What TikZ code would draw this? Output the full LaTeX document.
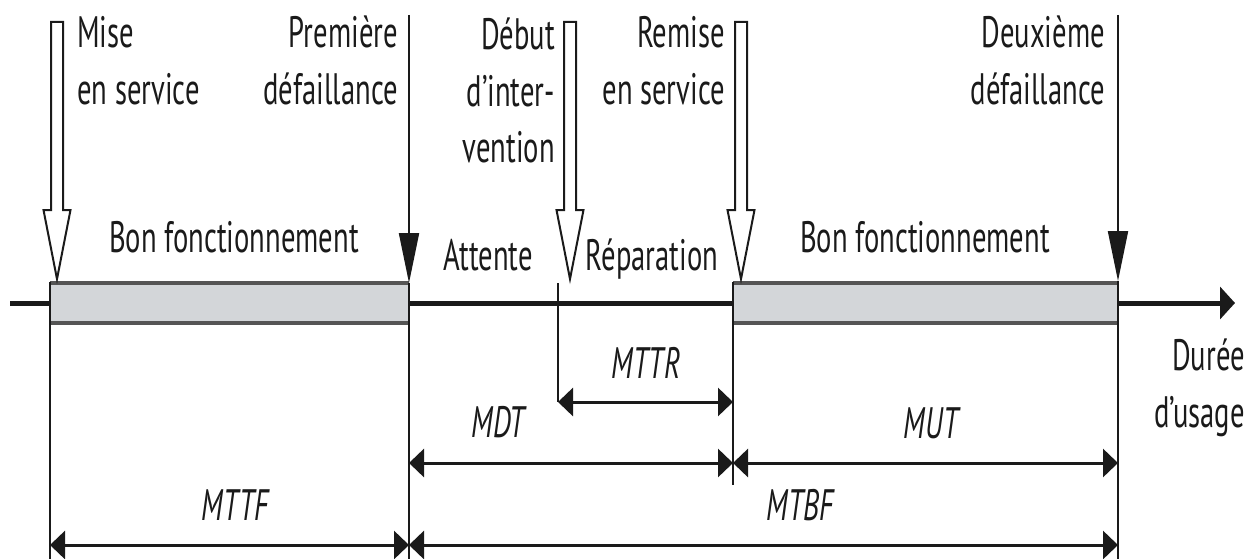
\documentclass[tikz,border=0pt]{standalone}
\usepackage{fontspec}
\usetikzlibrary{arrows.meta}
\newfontfamily\lab[FakeStretch=0.65]{PT Sans}
\definecolor{barfill}{HTML}{D3D6D9}
\definecolor{baredge}{HTML}{555555}
\definecolor{ink}{HTML}{1A1A1A}
\begin{document}
\begin{tikzpicture}[x=1pt,y=-1pt,
  txt/.style={font=\lab\fontsize{44}{57}\selectfont, inner sep=0pt, text=ink},
  dimlab/.style={txt, font=\lab\itshape\fontsize{44}{57}\selectfont, anchor=center},
  vline/.style={draw=ink, line width=2pt},
  dim/.style={draw=ink, line width=3pt, {Triangle[length=15pt,width=28pt]}-{Triangle[length=15pt,width=28pt]}},
  failarrow/.style={draw=ink, line width=2pt, -{Triangle[length=50pt,width=20pt]}},
  hollowarr/.style={draw=ink, line width=2pt, fill=white},
  axisline/.style={draw=ink, line width=5pt, -{Triangle[length=15pt,width=32pt]}},
  bar/.style={fill=barfill},
  baredgeline/.style={draw=baredge, line width=3.5pt}
]
\useasboundingbox (0,0) rectangle (1258,559);

% event coordinates on the axis
\coordinate (axstart) at (10,303);
\coordinate (axend) at (1235,303);

% axis
\draw[axisline] (axstart) -- (axend);

% bars
\fill[bar] (50,282) rectangle (409,324);
\fill[bar] (733,282) rectangle (1118,324);
\draw[baredgeline] (50,283) -- (409,283) (50,323) -- (409,323);
\draw[baredgeline] (733,283) -- (1118,283) (733,323) -- (1118,323);

% vertical lines
\coordinate (t0top) at (50,282);
\coordinate (t0b) at (50,559);
\coordinate (t1top) at (409,15);
\coordinate (t1tip) at (409,283);
\coordinate (t1b) at (409,559);
\coordinate (t2top) at (558,283);
\coordinate (t2b) at (558,402);
\coordinate (t3top) at (733,282);
\coordinate (t3b) at (733,485);
\coordinate (t4top) at (1118,15);
\coordinate (t4tip) at (1118,281);
\coordinate (t4b) at (1118,559);

\draw[vline] (t0top) -- (t0b);
\draw[vline] (t1tip) -- (t1b);
\draw[vline] (t2top) -- (t2b);
\draw[vline] (t3top) -- (t3b);
\draw[vline] (t4tip) -- (t4b);

% failure arrows
\draw[failarrow] (t1top) -- (t1tip);
\draw[failarrow] (t4top) -- (t4tip);

% hollow arrows
\foreach \c in {57,570,741}{
  \draw[hollowarr] ({\c-6},22) -- ({\c+6},22) -- ({\c+6},210) -- ({\c+13.5},210)
     -- (\c,279) -- ({\c-13.5},210) -- ({\c-6},210) -- cycle;
}

% event labels (anchored at the baseline of their last line)
\node[txt, anchor=base west, align=left] (lmise) at (77,105) {Mise\\en service};
\node[txt, anchor=base east, align=right] (lprem) at (398,105) {Première\\défaillance};
\node[txt, anchor=base east, align=right] (ldebut) at (555,163) {Début\\d’inter-\\vention};
\node[txt, anchor=base east, align=right] (lremise) at (725,105) {Remise\\en service};
\node[txt, anchor=base east, align=right] (ldeux) at (1105,105) {Deuxième\\défaillance};

% phase labels
\node[txt, anchor=base] (bon1) at (234,252) {Bon fonctionnement};
\node[txt, anchor=base] (att) at (488,270) {Attente};
\node[txt, anchor=base] (rep) at (652,270) {Réparation};
\node[txt, anchor=base] (bon2) at (925,252) {Bon fonctionnement};

\node[txt, anchor=base east, align=right] (duree) at (1245,427) {Durée\\d’usage};

% dimension arrows
\coordinate (mttrL) at (558,402);
\coordinate (mttrR) at (733,402);
\coordinate (mdtL) at (409,463);
\coordinate (mdtR) at (733,463);
\coordinate (mutR) at (1118,463);
\coordinate (mttfL) at (50,545);
\coordinate (mttfR) at (409,545);
\coordinate (mtbfR) at (1118,545);

\draw[dim] (mttrL) -- (mttrR);
\draw[dim] (mdtL) -- (mdtR);
\draw[dim] (mdtR) -- (mutR);
\draw[dim] (mttfL) -- (mttfR);
\draw[dim] (mttfR) -- (mtbfR);

\node[dimlab] (lmttr) at (646,363) {MTTR};
\node[dimlab] (lmdt) at (498,422) {MDT};
\node[dimlab] (lmut) at (931,423) {MUT};
\node[dimlab] (lmttf) at (235,505) {MTTF};
\node[dimlab] (lmtbf) at (800,505) {MTBF};
\end{tikzpicture}
\end{document}
